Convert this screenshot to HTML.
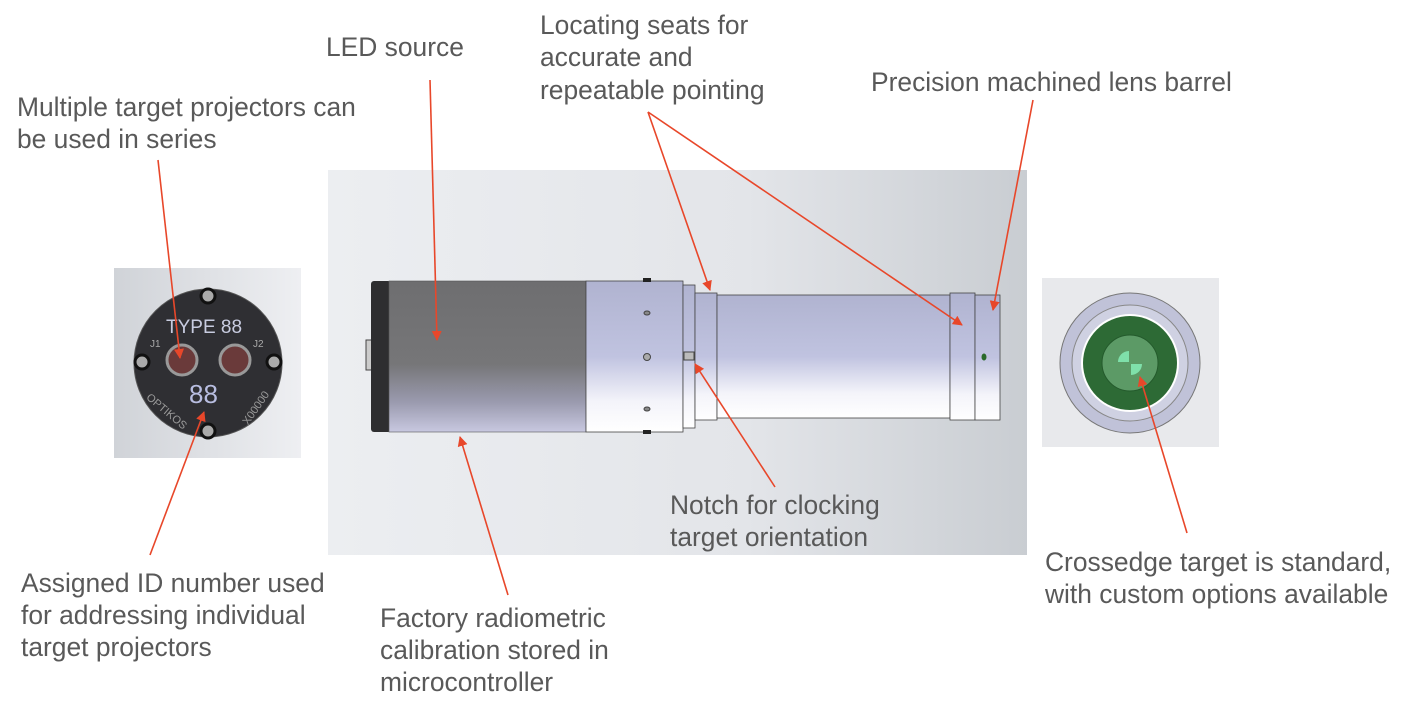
<!DOCTYPE html>
<html><head><meta charset="utf-8"><style>
body{margin:0;background:#fff;width:1411px;height:714px;overflow:hidden}
svg{display:block}
text{font-family:"Liberation Sans",Arial,sans-serif;font-size:26.4px;fill:#595959}
</style></head><body>
<svg width="1411" height="714" viewBox="0 0 1411 714">
<defs>
<linearGradient id="bg" x1="0" x2="1" y1="0" y2="0"><stop offset="0" stop-color="#eceef1"/><stop offset="0.6" stop-color="#e3e5e9"/><stop offset="1" stop-color="#c9cdd2"/></linearGradient>
<linearGradient id="gray" x1="0" x2="0" y1="0" y2="1"><stop offset="0" stop-color="#6e6e70"/><stop offset="0.55" stop-color="#767678"/><stop offset="0.8" stop-color="#9a9aae"/><stop offset="1" stop-color="#c8c8e0"/></linearGradient>
<linearGradient id="met" x1="0" x2="0" y1="0" y2="1"><stop offset="0" stop-color="#b0b3d0"/><stop offset="0.5" stop-color="#c0c3e0"/><stop offset="0.8" stop-color="#f4f4fa"/><stop offset="1" stop-color="#ffffff"/></linearGradient>
<linearGradient id="lbg" x1="0" x2="1"><stop offset="0" stop-color="#d0d3d8"/><stop offset="1" stop-color="#eeeff2"/></linearGradient>
<marker id="ah" markerWidth="10" markerHeight="10" refX="9" refY="5" orient="auto" markerUnits="userSpaceOnUse"><path d="M0,0 L10,5 L0,10 z" fill="#e8472a"/></marker>
</defs>
<rect x="328" y="170" width="699" height="385" fill="url(#bg)"/>
<rect x="366" y="340" width="8" height="30" fill="#ccc" stroke="#444"/>
<rect x="371" y="281" width="20" height="151" rx="3" fill="#2e2e30"/>
<rect x="389" y="281" width="197" height="151" fill="url(#gray)" stroke="#555" stroke-width="0.6"/>
<rect x="586" y="281" width="97" height="151" fill="url(#met)" stroke="#444" stroke-width="0.8"/>
<rect x="683" y="285" width="12" height="143" fill="url(#met)" stroke="#444" stroke-width="0.8"/>
<rect x="684" y="352" width="10" height="8" fill="#bbb" stroke="#444"/>
<rect x="695" y="293" width="22" height="127" fill="url(#met)" stroke="#444" stroke-width="0.8"/>
<rect x="717" y="295" width="233" height="123" fill="url(#met)" stroke="#444" stroke-width="0.8"/>
<rect x="950" y="293" width="25" height="127" fill="url(#met)" stroke="#444" stroke-width="0.8"/>
<rect x="975" y="295" width="25" height="125" fill="url(#met)" stroke="#444" stroke-width="0.8"/>
<ellipse cx="984" cy="357" rx="2.5" ry="3.5" fill="#2a6a2a"/>
<rect x="643" y="278" width="8" height="4" fill="#222"/><rect x="643" y="430" width="8" height="4" fill="#222"/>
<ellipse cx="647" cy="313" rx="3" ry="2" fill="#888" stroke="#444"/><ellipse cx="647" cy="409" rx="3" ry="2" fill="#888" stroke="#444"/>
<circle cx="647" cy="357" r="3.5" fill="#aaa" stroke="#444"/>
<rect x="114" y="268" width="187" height="190" fill="url(#lbg)"/>
<circle cx="208" cy="363" r="74" fill="#2f2f33" stroke="#555"/>
<circle cx="208" cy="296" r="7" fill="#aaa" stroke="#111" stroke-width="3"/>
<circle cx="208" cy="431" r="7" fill="#aaa" stroke="#111" stroke-width="3"/>
<circle cx="142" cy="362" r="7" fill="#aaa" stroke="#111" stroke-width="3"/>
<circle cx="274" cy="362" r="7" fill="#aaa" stroke="#111" stroke-width="3"/>
<text x="166" y="333" style="font-size:19px;fill:#c8cce0">TYPE 88</text>
<text x="150" y="347" style="font-size:10px;fill:#aaa">J1</text><text x="253" y="347" style="font-size:10px;fill:#aaa">J2</text>
<circle cx="182" cy="360" r="15" fill="#6a3a3a" stroke="#999" stroke-width="3"/>
<circle cx="235" cy="360" r="15" fill="#6a3a3a" stroke="#999" stroke-width="3"/>
<text x="189" y="403" style="font-size:26px;fill:#b8bde0">88</text>
<text x="148" y="408" style="font-size:11px;fill:#999" transform="rotate(40 160 400)">OPTIKOS</text>
<text x="232" y="415" style="font-size:11px;fill:#999" transform="rotate(-55 250 405)">X00000</text>
<rect x="1042" y="278" width="177" height="169" fill="#e8e9ec"/>
<circle cx="1130" cy="363" r="70" fill="#c0c2d8" stroke="#777"/>
<circle cx="1130" cy="363" r="58" fill="#cfd1e2" stroke="#888"/>
<circle cx="1130" cy="363" r="49" fill="#fff"/>
<circle cx="1130" cy="363" r="47" fill="#2d6a35"/>
<circle cx="1130" cy="363" r="28" fill="#5c9a66" stroke="#245a2c"/>
<path d="M1129,362 L1129,351 A11,11 0 0 0 1118,362 Z" fill="#7fe0aa"/>
<path d="M1131,364 L1142,364 A11,11 0 0 1 1131,375 Z" fill="#7fe0aa"/>
<g stroke="#e8472a" stroke-width="1.6" fill="none" marker-end="url(#ah)">
<line x1="158" y1="160" x2="180" y2="358"/>
<line x1="150" y1="555" x2="204" y2="412"/>
<line x1="430" y1="80" x2="437" y2="340"/>
<line x1="508" y1="595" x2="460" y2="437"/>
<line x1="648" y1="112" x2="710" y2="290"/>
<line x1="648" y1="112" x2="962" y2="325"/>
<line x1="1033" y1="100" x2="993" y2="310"/>
<line x1="775" y1="487" x2="695" y2="364"/>
<line x1="1187" y1="533" x2="1140" y2="377"/>
</g>
<text x="326" y="56">LED source</text>
<text x="540" y="34">Locating seats for</text>
<text x="540" y="66">accurate and</text>
<text x="540" y="99">repeatable pointing</text>
<text x="871" y="91">Precision machined lens barrel</text>
<text x="17" y="116">Multiple target projectors can</text>
<text x="17" y="148">be used in series</text>
<text x="670" y="514">Notch for clocking</text>
<text x="670" y="546">target orientation</text>
<text x="1045" y="571">Crossedge target is standard,</text>
<text x="1045" y="603">with custom options available</text>
<text x="21" y="592">Assigned ID number used</text>
<text x="21" y="624">for addressing individual</text>
<text x="21" y="656">target projectors</text>
<text x="380" y="627">Factory radiometric</text>
<text x="380" y="659">calibration stored in</text>
<text x="380" y="691">microcontroller</text>
</svg>
</body></html>
